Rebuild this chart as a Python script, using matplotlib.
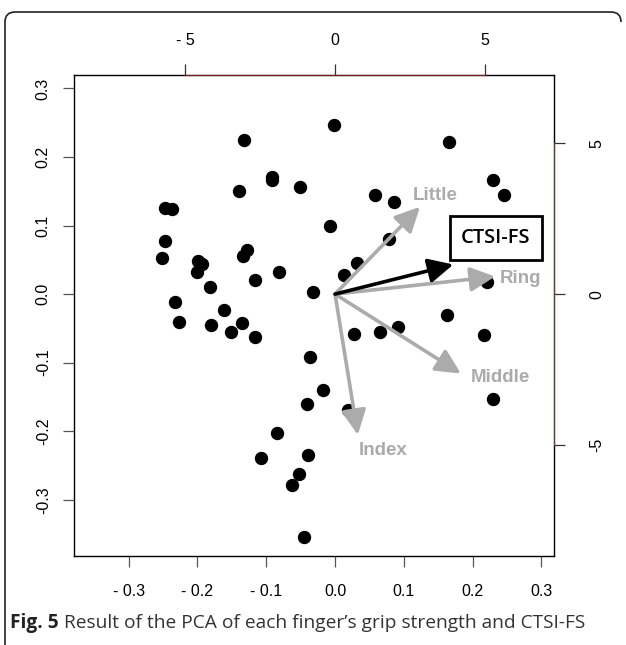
import matplotlib
matplotlib.use("Agg")
import matplotlib.pyplot as plt
from matplotlib.path import Path
from matplotlib.patches import PathPatch

# PCA scores (bottom / left axes)
score_x = [-0.002, -0.133, -0.092, -0.091, -0.051, -0.139, -0.247, -0.237, -0.008, -0.247,
           -0.128, -0.134, -0.251, -0.199, -0.193, -0.200, -0.082, -0.117, -0.182, -0.032,
           -0.232, -0.162, -0.227, -0.180, -0.136, -0.151, -0.117, -0.037, 0.013, 0.028,
           0.065, 0.092, -0.017, -0.041, 0.019, -0.084, -0.108, -0.039, -0.052, -0.062,
           -0.045, 0.230, 0.245, 0.058, 0.086, 0.078, 0.032, 0.221, 0.163, 0.216,
           0.230, 0.166]
score_y = [0.246, 0.225, 0.171, 0.166, 0.156, 0.151, 0.126, 0.124, 0.100, 0.078,
           0.065, 0.055, 0.052, 0.048, 0.044, 0.032, 0.032, 0.020, 0.011, 0.003,
           -0.012, -0.023, -0.040, -0.045, -0.042, -0.055, -0.062, -0.092, 0.028, -0.058,
           -0.055, -0.048, -0.140, -0.161, -0.169, -0.202, -0.239, -0.235, -0.263, -0.278,
           -0.355, 0.166, 0.145, 0.144, 0.134, 0.080, 0.045, 0.018, -0.030, -0.060,
           -0.153, 0.222]

# loadings (top / right axes)
var_names = ["Little", "Ring", "Middle", "Index"]
load_x = [2.83, 5.33, 4.19, 0.76]
load_y = [2.89, 0.58, -2.63, -4.66]
label_x = [3.33, 6.18, 5.51, 1.61]
label_y = [3.26, 0.51, -2.76, -5.18]
ctsi_x, ctsi_y = 3.94, 0.98
ctsi_label = (5.36, 1.86)

bottom_ticks = [-0.3, -0.2, -0.1, 0.0, 0.1, 0.2, 0.3]
bottom_labels = ["- 0.3", "- 0.2", "- 0.1", "0.0", "0.1", "0.2", "0.3"]
left_labels = ["-0.3", "-0.2", "-0.1", "0.0", "0.1", "0.2", "0.3"]
top_ticks = [-5, 0, 5]
top_labels = ["- 5", "0", "5"]
right_labels = ["-5", "0", "5"]

gray = "#ababab"
plt.rcParams['font.family'] = ['Liberation Sans', 'DejaVu Sans']

fig = plt.figure(figsize=(6.26, 6.45), dpi=100)
pos = [74.4 / 626, 1 - 556 / 645, 480 / 626, (556 - 74.7) / 645]

ax = fig.add_axes(pos)
ax.plot(score_x, score_y, "o", color="black", markersize=8.6)
ax.set_xlim(-0.379, 0.319)
ax.set_ylim(-0.382, 0.320)
ax.set_xticks(bottom_ticks)
ax.set_xticklabels(bottom_labels)
ax.set_yticks(bottom_ticks)
ax.set_yticklabels(left_labels, rotation=90, va="center")
ax.tick_params(length=8, width=0.9, labelsize=11.5, pad=9, color="#555555")
ax.tick_params(axis="x", pad=12)
for s in ax.spines.values():
    s.set_linewidth(1.0)

ax2 = fig.add_axes(pos, facecolor="none")
ax2.set_xlim(-0.379 * 22.9, 0.319 * 22.9)
ax2.set_ylim(-0.382 * 22.7, 0.320 * 22.7)
ax2.xaxis.tick_top()
ax2.yaxis.tick_right()
ax2.set_xticks(top_ticks)
ax2.set_xticklabels(top_labels)
ax2.set_yticks(top_ticks)
ax2.set_yticklabels(right_labels, rotation=90, va="center")
ax2.tick_params(length=8, width=0.9, labelsize=11.5, color="#333333")
ax2.tick_params(axis="x", pad=11)
ax2.tick_params(axis="y", pad=17)
ax2.spines["left"].set_visible(False)
ax2.spines["bottom"].set_visible(False)
ax2.spines["top"].set_bounds(-5, 5)
ax2.spines["top"].set_color("#7a1c1c")
ax2.spines["right"].set_bounds(-5, 5)
ax2.spines["right"].set_color("#a85050")
ax2.spines["right"].set_linewidth(0.5)

for n, lx, ly, tx, ty in zip(var_names, load_x, load_y, label_x, label_y):
    ax2.annotate("", xy=(lx, ly), xytext=(0, 0),
                 arrowprops=dict(arrowstyle="-|>,head_length=0.75,head_width=0.37",
                                 color=gray, lw=2.6, mutation_scale=20, shrinkA=0, shrinkB=0))
    ax2.text(tx, ty, n, color=gray, fontsize=13.5, fontweight="bold", ha="center", va="center")

ax2.annotate("", xy=(ctsi_x, ctsi_y), xytext=(0, 0),
             arrowprops=dict(arrowstyle="-|>,head_length=0.75,head_width=0.37",
                             color="black", lw=2.6, mutation_scale=20, shrinkA=0, shrinkB=0))
ax2.text(ctsi_label[0], ctsi_label[1], "CTSI-FS", fontsize=14.5, color="black",
         fontweight="semibold", family=["Open Sans", "DejaVu Sans"],
         ha="center", va="center",
         bbox=dict(boxstyle="square,pad=0.58", fc="white", ec="black", lw=2))

# frame around the figure (open on the right)
W, H = 626, 645
verts = [(5, 645), (5, 22), (5, 12), (15, 12), (611, 12), (621, 12), (621, 22)]
codes = [Path.MOVETO, Path.LINETO, Path.CURVE3, Path.CURVE3, Path.LINETO, Path.CURVE3, Path.CURVE3]
verts = [(x / W, 1 - y / H) for x, y in verts]
fig.patches.append(PathPatch(Path(verts, codes), fc="none", ec="#222222", lw=1.2,
                             transform=fig.transFigure))

fig.text(10 / W, 1 - 623 / H, "Fig. 5", fontsize=13.8, fontweight="bold", color="#222222",
         va="center", family=["Open Sans", "DejaVu Sans"])
fig.text(64 / W, 1 - 623 / H, "Result of the PCA of each finger\u2019s grip strength and CTSI-FS",
         fontsize=13.8, color="#333333", va="center", family=["Open Sans", "DejaVu Sans"])

fig.savefig("out.png", dpi=100)
